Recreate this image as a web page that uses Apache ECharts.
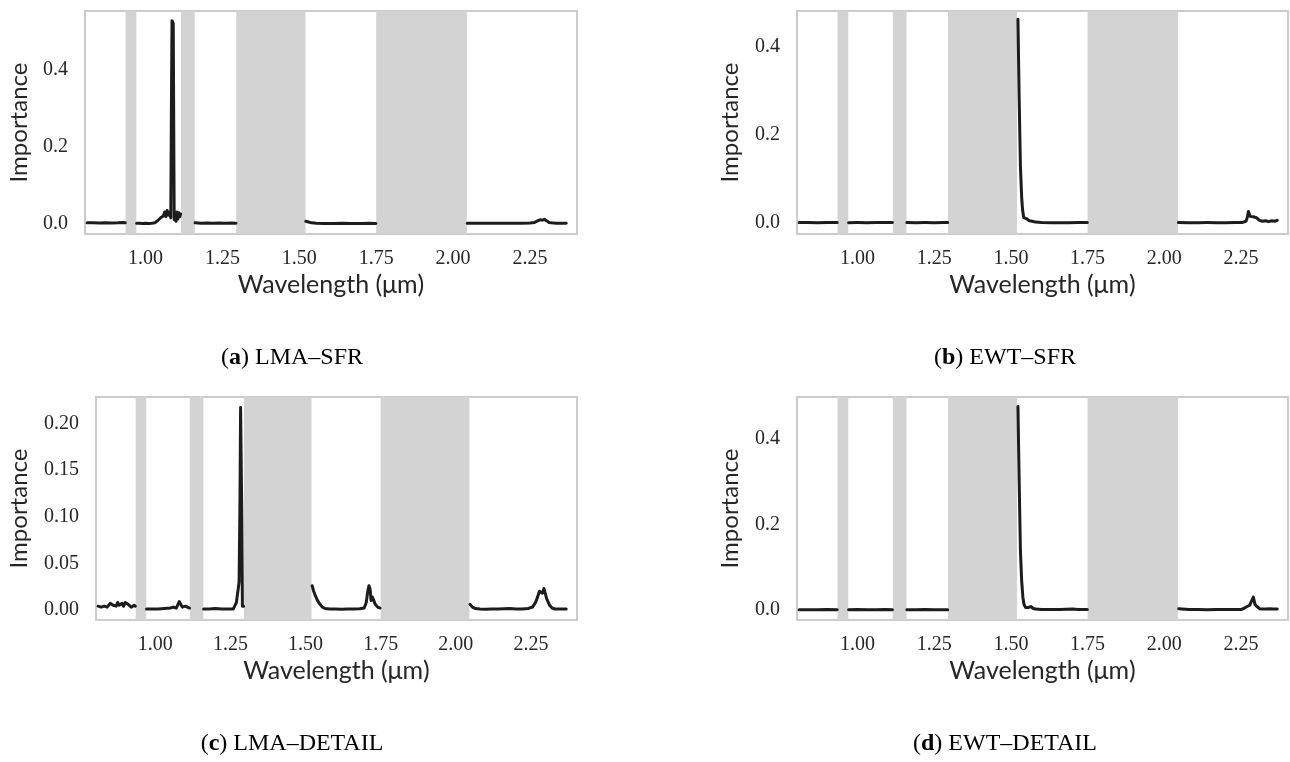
<!DOCTYPE html>
<html>
<head>
<meta charset="utf-8">
<script src="https://cdn.jsdelivr.net/npm/echarts@6.0.0/dist/echarts.min.js"></script>
<style>
html,body{margin:0;padding:0;background:#fff;}
#chart{width:1290px;height:762px;}
</style>
</head>
<body>
<div id="chart"></div>
<script>
// ---- data (null marks a gap where a shaded band removes the spectrum) ----
const bands = [[0.935, 0.970], [1.115, 1.160], [1.295, 1.520], [1.750, 2.045]];
const xTicks = [1.00, 1.25, 1.50, 1.75, 2.00, 2.25];

// (a) LMA–SFR
const aWl  = [0.810,0.830,0.850,0.870,0.890,0.910,0.925,0.934, 0.952,
  0.971,0.980,0.990,1.000,1.010,1.020,1.030,1.040,1.050,1.058,1.062,1.066,1.070,1.074,1.078,1.082,1.084,1.086,1.090,1.093,1.096,1.099,1.102,1.105,1.108,1.111,1.114, 1.137,
  1.161,1.180,1.200,1.220,1.240,1.260,1.280,1.294, 1.40,
  1.521,1.530,1.540,1.555,1.580,1.610,1.640,1.670,1.700,1.730,1.749, 1.90,
  2.046,2.070,2.100,2.130,2.160,2.190,2.220,2.250,2.265,2.275,2.283,2.290,2.297,2.305,2.312,2.320,2.335,2.350,2.368];
const aImp = [0.002,0.002,0.0015,0.002,0.0015,0.002,0.003,0.002, null,
  0.001,0.001,0.0005,0.001,0.0005,0.001,0.002,0.008,0.016,0.020,0.030,0.018,0.034,0.022,0.030,0.015,0.300,0.527,0.520,0.010,0.028,0.006,0.030,0.012,0.028,0.018,0.025, null,
  0.002,0.001,0.0015,0.001,0.0015,0.001,0.0015,0.001, null,
  0.006,0.004,0.002,0.001,0.0005,0.0005,0.0008,0.0005,0.0005,0.0008,0.0005, null,
  0.001,0.001,0.0008,0.001,0.0008,0.001,0.001,0.0015,0.003,0.007,0.010,0.009,0.011,0.007,0.003,0.002,0.001,0.001,0.0008];

// (b) EWT–SFR
const bWl  = [0.810,0.840,0.870,0.900,0.934, 0.952,
  0.971,1.000,1.030,1.060,1.090,1.114, 1.137,
  1.161,1.190,1.220,1.250,1.280,1.294, 1.40,
  1.523,1.527,1.531,1.535,1.538,1.542,1.546,1.550,1.555,1.560,1.570,1.580,1.600,1.630,1.660,1.690,1.720,1.749, 1.90,
  2.046,2.080,2.110,2.140,2.170,2.200,2.230,2.255,2.266,2.270,2.274,2.280,2.285,2.290,2.295,2.300,2.310,2.320,2.330,2.340,2.350,2.360,2.368];
const bImp = [0.001,0.001,0.0005,0.001,0.001, null,
  0.0008,0.001,0.0008,0.001,0.0012,0.001, null,
  0.0012,0.0008,0.001,0.0008,0.001,0.001, null,
  0.462,0.280,0.130,0.060,0.030,0.012,0.008,0.010,0.006,0.005,0.004,0.002,0.001,0.0008,0.0008,0.0008,0.001,0.001, null,
  0.001,0.0008,0.0008,0.001,0.0008,0.0008,0.001,0.0012,0.004,0.012,0.026,0.015,0.012,0.014,0.010,0.012,0.006,0.004,0.005,0.003,0.005,0.004,0.006];

// (c) LMA–DETAIL
const cWl  = [0.810,0.820,0.830,0.840,0.850,0.860,0.870,0.875,0.880,0.890,0.895,0.900,0.910,0.920,0.930,0.934, 0.952,
  0.971,0.990,1.010,1.030,1.050,1.060,1.070,1.075,1.080,1.085,1.090,1.100,1.105,1.114, 1.137,
  1.161,1.180,1.200,1.220,1.240,1.260,1.266,1.270,1.275,1.279,1.282,1.284,1.286,1.288,1.290,1.294, 1.40,
  1.522,1.527,1.533,1.540,1.548,1.556,1.565,1.580,1.600,1.620,1.640,1.660,1.680,1.695,1.702,1.707,1.711,1.715,1.718,1.722,1.726,1.732,1.740,1.748, 1.90,
  2.047,2.055,2.065,2.080,2.100,2.120,2.140,2.160,2.180,2.200,2.220,2.240,2.255,2.265,2.272,2.278,2.283,2.288,2.293,2.298,2.302,2.307,2.312,2.320,2.330,2.350,2.367];
const cImp = [0.004,0.003,0.004,0.003,0.007,0.005,0.004,0.008,0.005,0.007,0.004,0.008,0.006,0.003,0.005,0.004, null,
  0.001,0.001,0.001,0.0015,0.002,0.003,0.002,0.004,0.009,0.007,0.003,0.004,0.002,0.002, null,
  0.001,0.001,0.0015,0.001,0.001,0.001,0.003,0.008,0.010,0.030,0.120,0.217,0.215,0.100,0.004,0.004, null,
  0.026,0.020,0.015,0.010,0.006,0.003,0.0015,0.001,0.001,0.0008,0.001,0.001,0.0012,0.002,0.008,0.020,0.026,0.022,0.010,0.014,0.012,0.006,0.003,0.002, null,
  0.006,0.003,0.0015,0.001,0.0008,0.001,0.001,0.0012,0.0015,0.001,0.001,0.0015,0.003,0.008,0.014,0.020,0.021,0.018,0.023,0.021,0.012,0.010,0.005,0.002,0.001,0.001,0.001];

// (d) EWT–DETAIL
const dWl  = [0.810,0.840,0.870,0.900,0.934, 0.952,
  0.971,1.000,1.030,1.060,1.090,1.114, 1.137,
  1.161,1.190,1.220,1.250,1.280,1.294, 1.40,
  1.523,1.527,1.531,1.535,1.539,1.543,1.548,1.553,1.558,1.565,1.572,1.580,1.600,1.630,1.660,1.700,1.720,1.749, 1.90,
  2.047,2.080,2.110,2.140,2.170,2.200,2.230,2.250,2.262,2.270,2.278,2.284,2.290,2.296,2.302,2.310,2.320,2.330,2.345,2.355,2.368];
const dImp = [0.0005,0.0005,0.0005,0.0008,0.0005, null,
  0.0005,0.0008,0.0005,0.0005,0.0008,0.0005, null,
  0.0005,0.0005,0.0008,0.0005,0.0005,0.0005, null,
  0.476,0.300,0.140,0.070,0.030,0.012,0.006,0.008,0.006,0.008,0.004,0.002,0.001,0.001,0.0008,0.002,0.001,0.001, null,
  0.003,0.001,0.0008,0.0005,0.0008,0.0008,0.001,0.001,0.005,0.008,0.011,0.010,0.030,0.012,0.008,0.003,0.002,0.002,0.003,0.002,0.002];

const panels = [
  {wl: aWl, imp: aImp, yMin: -0.027, yMax: 0.552, yTicks: [0, 0.2, 0.4], dec: 1,
   grid: {left: 85, top: 11, width: 492, height: 223}, nameGap: 54,
   cap: ['a', ') LMA–SFR'], capX: 292, capY: 358},
  {wl: bWl, imp: bImp, yMin: -0.025, yMax: 0.481, yTicks: [0, 0.2, 0.4], dec: 1,
   grid: {left: 797, top: 11, width: 491, height: 223}, nameGap: 55,
   cap: ['b', ') EWT–SFR'], capX: 1005, capY: 358},
  {wl: cWl, imp: cImp, yMin: -0.0108, yMax: 0.2282, yTicks: [0, 0.05, 0.10, 0.15, 0.20], dec: 2,
   grid: {left: 96, top: 397, width: 481, height: 223}, nameGap: 65,
   cap: ['c', ') LMA–DETAIL'], capX: 292, capY: 744},
  {wl: dWl, imp: dImp, yMin: -0.0235, yMax: 0.4985, yTicks: [0, 0.2, 0.4], dec: 1,
   grid: {left: 797, top: 397, width: 491, height: 223}, nameGap: 55,
   cap: ['d', ') EWT–DETAIL'], capX: 1005, capY: 744}
];

const serif = 'Liberation Serif';
const sans = 'Lato';

const option = {
  backgroundColor: '#ffffff',
  animation: false,
  grid: panels.map(p => Object.assign({show: true, borderColor: '#cccccc', borderWidth: 2, backgroundColor: '#ffffff', containLabel: false}, p.grid)),
  xAxis: panels.map((p, i) => ({
    type: 'value', gridIndex: i, min: 0.803, max: 2.403,
    name: 'Wavelength (μm)', nameLocation: 'middle', nameGap: 38,
    nameTextStyle: {fontFamily: sans, fontSize: 25, color: '#262626'},
    axisLine: {show: false}, axisTick: {show: false}, splitLine: {show: false},
    axisLabel: {customValues: xTicks, formatter: v => v.toFixed(2), fontFamily: serif, fontSize: 20, color: '#262626', margin: 15}
  })),
  yAxis: panels.map((p, i) => ({
    type: 'value', gridIndex: i, min: p.yMin, max: p.yMax,
    name: 'Importance', nameLocation: 'middle', nameGap: p.nameGap,
    nameTextStyle: {fontFamily: sans, fontSize: 24, color: '#262626'},
    axisLine: {show: false}, axisTick: {show: false}, splitLine: {show: false},
    axisLabel: {customValues: p.yTicks, formatter: v => v.toFixed(p.dec), fontFamily: serif, fontSize: 20, color: '#262626', margin: 17}
  })),
  series: panels.map((p, i) => ({
    type: 'line', xAxisIndex: i, yAxisIndex: i,
    data: p.wl.map((x, k) => [x, p.imp[k] === null ? '-' : p.imp[k]]),
    showSymbol: false, symbol: 'none', connectNulls: false,
    lineStyle: {color: '#1c1c1c', width: 3, join: 'round', cap: 'round'},
    markArea: {silent: true, itemStyle: {color: '#d3d3d3'},
      data: bands.map(b => [{xAxis: b[0]}, {xAxis: b[1]}])},
    z: 3
  })),
  graphic: panels.map(p => ({
    type: 'text', x: p.capX, y: p.capY,
    style: {
      text: '{n|(}{b|' + p.cap[0] + '}{n|' + p.cap[1] + '}',
      align: 'center', verticalAlign: 'middle', textAlign: 'center', textVerticalAlign: 'middle',
      rich: {
        n: {fontFamily: serif, fontSize: 24, fill: '#000', color: '#000'},
        b: {fontFamily: serif, fontSize: 24, fontWeight: 'bold', fill: '#000', color: '#000'}
      }
    }
  }))
};

const chart = echarts.init(document.getElementById('chart'), null, {renderer: 'canvas'});
chart.setOption(option);
</script>
</body>
</html>
